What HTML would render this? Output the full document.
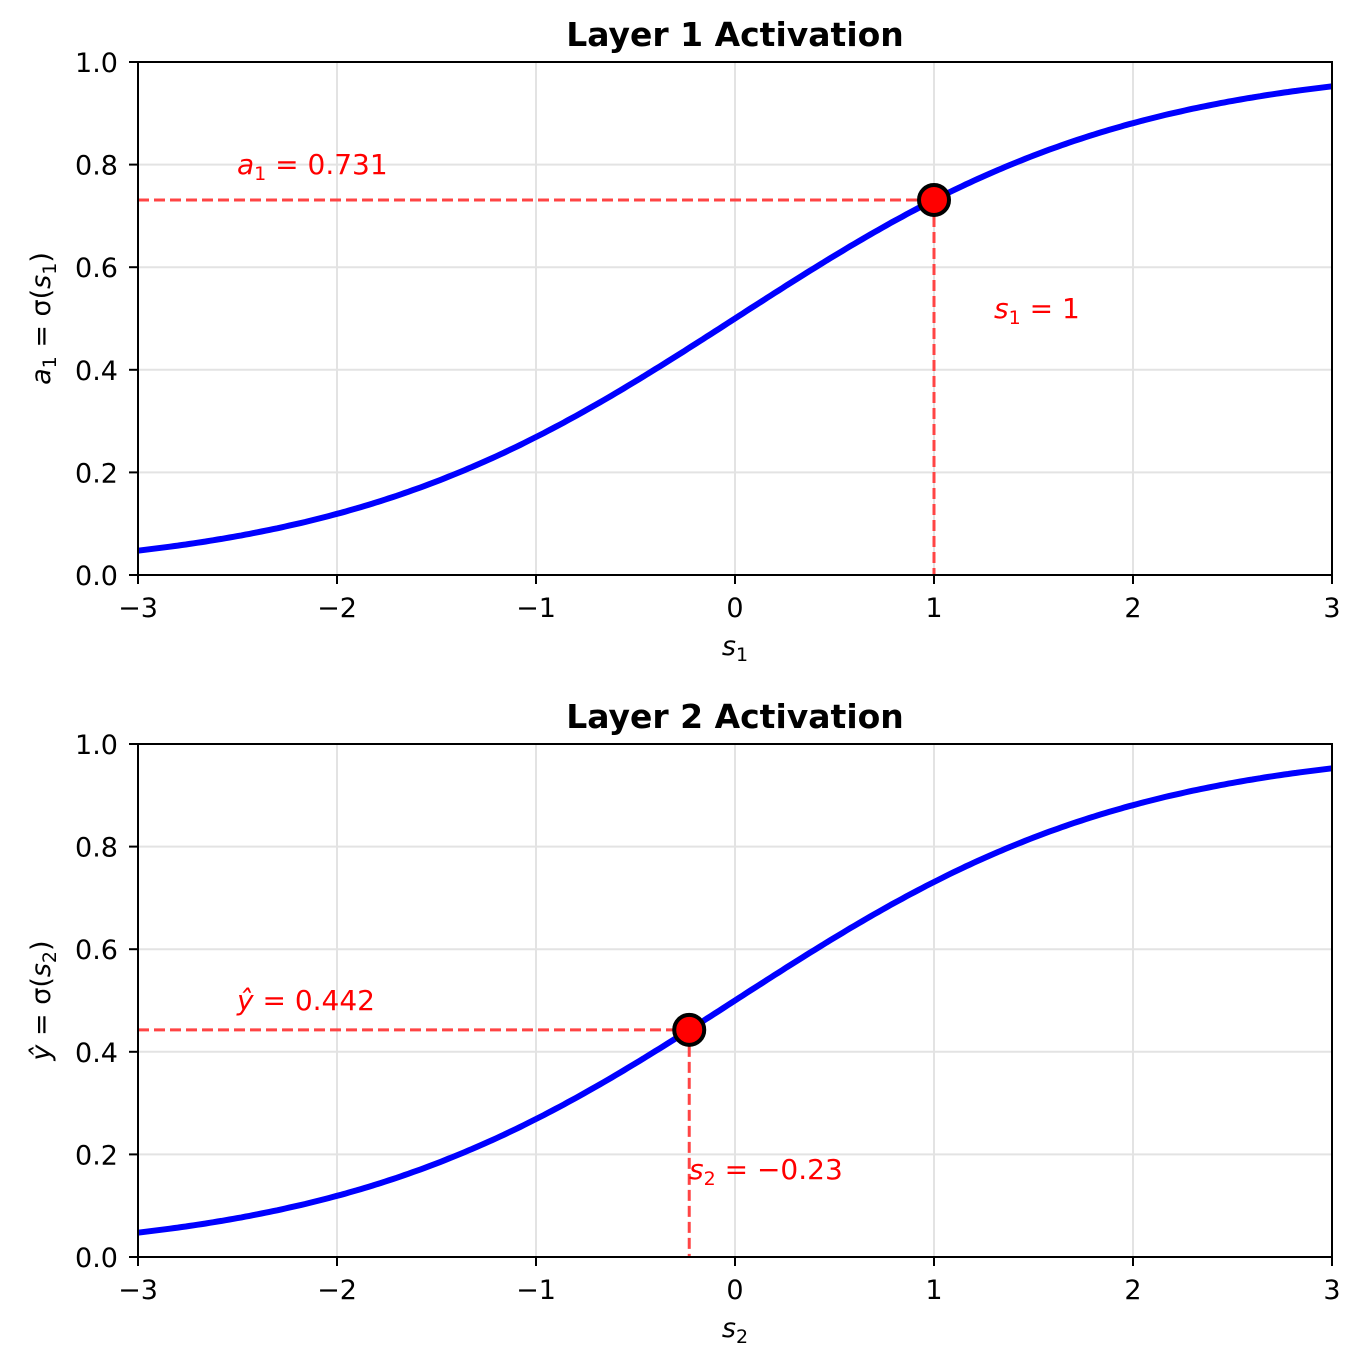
<!DOCTYPE html>
<html><head><meta charset="utf-8"><style>
body{margin:0;background:#fff}
svg text{font-family:"DejaVu Sans","Liberation Sans",sans-serif}
</style></head><body>
<svg id="s" width="1362" height="1366" xmlns="http://www.w3.org/2000/svg"></svg>
<script>
const s=document.getElementById('s');let h='';
function X(v){return 138+(v+3)*199;}
function panel(y0,title,ylab,xlab,sv,ann1,ann2,a1y,a2y){
 const Y=v=>y0-v*513;
 for(let i=-3;i<=3;i++)h+=`<line x1="${X(i)}" y1="${Y(0)}" x2="${X(i)}" y2="${Y(1)}" stroke="#e3e3e3" stroke-width="2"/>`;
 for(let j=0;j<=5;j++)h+=`<line x1="138" y1="${Y(j/5)}" x2="1332" y2="${Y(j/5)}" stroke="#e3e3e3" stroke-width="2"/>`;
 let p='';for(let k=0;k<=300;k++){const v=-3+6*k/300;p+=(k?'L':'M')+X(v).toFixed(1)+','+Y(1/(1+Math.exp(-v))).toFixed(1);}
 const a=1/(1+Math.exp(-sv));
 h+=`<line x1="138" y1="${Y(a)}" x2="${X(sv)}" y2="${Y(a)}" stroke="#ff4444" stroke-width="3" stroke-dasharray="11,5"/>`;
 h+=`<line x1="${X(sv)}" y1="${Y(a)}" x2="${X(sv)}" y2="${Y(0)}" stroke="#ff4444" stroke-width="3" stroke-dasharray="11,5"/>`;
 h+=`<path d="${p}" fill="none" stroke="#0000ff" stroke-width="6"/>`;
 h+=`<circle cx="${X(sv)}" cy="${Y(a)}" r="15" fill="#ff0000" stroke="#000" stroke-width="4"/>`;
 h+=`<rect x="138" y="${Y(1)}" width="1194" height="513" fill="none" stroke="#000" stroke-width="2"/>`;
 for(let i=-3;i<=3;i++){h+=`<line x1="${X(i)}" y1="${Y(0)}" x2="${X(i)}" y2="${Y(0)+9}" stroke="#000" stroke-width="2"/>`;
  h+=`<text x="${X(i)}" y="${Y(0)+42}" font-size="27" text-anchor="middle">${i<0?'−'+(-i):i}</text>`;}
 for(let j=0;j<=5;j++){h+=`<line x1="129" y1="${Y(j/5)}" x2="138" y2="${Y(j/5)}" stroke="#000" stroke-width="2"/>`;
  h+=`<text x="118" y="${Y(j/5)+10}" font-size="27" text-anchor="end">${(j/5).toFixed(1)}</text>`;}
 h+=`<text x="735" y="${Y(1)-16}" font-size="33" font-weight="bold" text-anchor="middle">${title}</text>`;
 h+=`<text x="735" y="${Y(0)+80}" font-size="27" text-anchor="middle" font-style="italic">${xlab}</text>`;
 h+=`<text transform="translate(50,${Y(0.5)}) rotate(-90)" font-size="27" text-anchor="middle" font-style="italic">${ylab}</text>`;
 h+=`<text x="237" y="${a1y}" font-size="28" fill="#ff0000">${ann1}</text>`;
 h+=`<text x="${sv>0?994:689}" y="${a2y}" font-size="28" fill="#ff0000">${ann2}</text>`;
}
const sub=n=>`<tspan font-size="19" dy="6" font-style="normal">${n}</tspan>`;
panel(575,'Layer 1 Activation','a'+sub(1)+'<tspan dy="-6" font-style="normal"> = σ(</tspan>s'+sub(1)+'<tspan dy="-6" font-style="normal">)</tspan>','s'+sub(1),1,
 '<tspan font-style="italic">a</tspan>'+sub(1)+'<tspan dy="-6"> = 0.731</tspan>',
 '<tspan font-style="italic">s</tspan>'+sub(1)+'<tspan dy="-6"> = 1</tspan>',174,318);
panel(1257,'Layer 2 Activation','ŷ<tspan font-style="normal"> = σ(</tspan>s'+sub(2)+'<tspan dy="-6" font-style="normal">)</tspan>','s'+sub(2),-0.23,
 '<tspan font-style="italic">ŷ</tspan> = 0.442',
 '<tspan font-style="italic">s</tspan>'+sub(2)+'<tspan dy="-6"> = −0.23</tspan>',1010,1179);
s.innerHTML=h;
</script>
</body></html>
